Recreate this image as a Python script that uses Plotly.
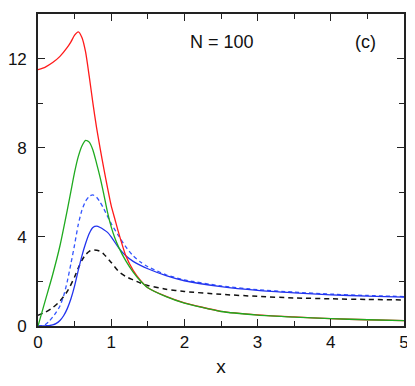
import plotly.graph_objects as go

# ---- data ----
x_red = [0, 0.1, 0.2, 0.3, 0.4, 0.45, 0.5, 0.55, 0.6, 0.65, 0.7, 0.75, 0.8, 0.85, 0.9, 0.95,
         1.0, 1.05, 1.1, 1.2, 1.3, 1.4, 1.5, 1.75, 2.0, 2.5, 3.0, 3.5, 4.0, 4.5, 5.0]
y_red = [11.5, 11.62, 11.82, 12.1, 12.5, 12.75, 13.05, 13.2, 12.95, 12.3, 11.2, 10.0, 8.9, 7.95, 7.05, 6.2,
         5.4, 4.8, 4.2, 3.15, 2.5, 2.05, 1.72, 1.33, 1.04, 0.66, 0.5, 0.41, 0.33, 0.28, 0.24]

x_green = [0, 0.1, 0.2, 0.3, 0.4, 0.45, 0.5, 0.55, 0.6, 0.65, 0.7, 0.75, 0.8, 0.85, 0.9, 0.95,
           1.0, 1.05, 1.1, 1.2, 1.3, 1.4, 1.5, 1.75, 2.0, 2.5, 3.0, 3.5, 4.0, 4.5, 5.0]
y_green = [0, 1.15, 2.3, 3.6, 5.2, 6.05, 6.9, 7.6, 8.08, 8.33, 8.25, 7.9, 7.3, 6.65, 5.9, 5.1,
           4.45, 3.95, 3.55, 2.92, 2.42, 2.02, 1.72, 1.32, 1.03, 0.65, 0.49, 0.4, 0.33, 0.28, 0.24]

x_blue = [0, 0.05, 0.1, 0.15, 0.2, 0.25, 0.3, 0.35, 0.4, 0.45, 0.5, 0.55, 0.6, 0.65, 0.7, 0.75,
          0.8, 0.85, 0.9, 0.95, 1.0, 1.1, 1.2, 1.3, 1.4, 1.5, 1.75, 2.0, 2.5, 3.0, 3.5, 4.0, 4.5, 5.0]
y_blue = [0, 0, 0.01, 0.02, 0.05, 0.12, 0.25, 0.46, 0.78, 1.22, 1.8, 2.5, 3.15, 3.7, 4.15, 4.42,
          4.48, 4.42, 4.32, 4.2, 4.0, 3.52, 3.15, 2.9, 2.72, 2.57, 2.26, 2.03, 1.77, 1.6, 1.49, 1.4, 1.34, 1.3]

x_blue_d = [0, 0.05, 0.1, 0.15, 0.2, 0.25, 0.3, 0.35, 0.4, 0.45, 0.5, 0.55, 0.6, 0.65, 0.7, 0.75,
            0.8, 0.85, 0.9, 1.0, 1.1, 1.2, 1.3, 1.4, 1.5, 1.75, 2.0, 2.5, 3.0, 3.5, 4.0, 4.5, 5.0]
y_blue_d = [0, 0.01, 0.06, 0.2, 0.4, 0.62, 0.9, 1.35, 2.0, 2.8, 3.65, 4.55, 5.2, 5.6, 5.82, 5.88,
            5.78, 5.55, 5.25, 4.6, 4.05, 3.55, 3.15, 2.87, 2.66, 2.3, 2.07, 1.8, 1.63, 1.52, 1.43, 1.37, 1.32]

x_black = [0, 0.1, 0.2, 0.3, 0.4, 0.5, 0.55, 0.6, 0.65, 0.7, 0.75, 0.8, 0.85, 0.9, 1.0, 1.1, 1.2,
           1.3, 1.4, 1.5, 1.75, 2.0, 2.5, 3.0, 3.5, 4.0, 4.5, 5.0]
y_black = [0.48, 0.62, 0.82, 1.12, 1.55, 2.2, 2.6, 2.95, 3.2, 3.35, 3.41, 3.4, 3.35, 3.22, 2.85, 2.45, 2.22,
           2.07, 1.93, 1.82, 1.65, 1.55, 1.42, 1.33, 1.26, 1.22, 1.19, 1.17]

x_ticks = [0, 1, 2, 3, 4, 5]
y_ticks = [0, 4, 8, 12]

FONT = "Liberation Sans, Arial, sans-serif"

fig = go.Figure()

def add(x, y, color, dash="solid", width=1.3):
    fig.add_trace(go.Scatter(x=x, y=y, mode="lines", cliponaxis=True,
                             line=dict(color=color, width=width, dash=dash, shape="spline", smoothing=0.6),
                             showlegend=False, hoverinfo="skip"))

add(x_black, y_black, "#111111", dash="5px,4px", width=1.5)
add(x_blue_d, y_blue_d, "#3355ff", dash="4px,3px", width=1.3)
add(x_blue, y_blue, "#2233ee", width=1.3)
add(x_red, y_red, "#ff1a1a", width=1.3)
add(x_green, y_green, "#1faa1f", width=1.3)

axis_common = dict(
    showgrid=False, zeroline=False, showline=True, linecolor="#222222", linewidth=1.6,
    mirror="allticks", ticks="inside", ticklen=7, tickwidth=1.2, tickcolor="#222222",
    tickfont=dict(family=FONT, size=17, color="#111111"), automargin=False,
)

fig.update_xaxes(range=[0, 5], tickvals=x_ticks, ticktext=[str(v) for v in x_ticks],
                 minor=dict(dtick=0.5, ticks="inside", ticklen=5, tickwidth=1.2, tickcolor="#222222"),
                 title=dict(text="x", font=dict(family=FONT, size=19, color="#111111"), standoff=8),
                 **axis_common)
fig.update_yaxes(range=[0, 14], tickvals=y_ticks, ticktext=[str(v) for v in y_ticks],
                 minor=dict(dtick=2, ticks="inside", ticklen=5, tickwidth=1.2, tickcolor="#222222"),
                 ticklabelstandoff=6,
                 **axis_common)

fig.add_annotation(x=2.51, y=12.76, text="N = 100", showarrow=False,
                   font=dict(family=FONT, size=18, color="#111111"))
fig.add_annotation(x=4.47, y=12.76, text="(c)", showarrow=False,
                   font=dict(family=FONT, size=18, color="#111111"))

# page body has an 8px margin: shift the layout so the plot area lands on the reference pixels
fig.update_layout(width=407, height=378, margin=dict(l=30, r=11, t=6, b=60, autoexpand=False),
                  plot_bgcolor="white", paper_bgcolor="white")

fig.write_html("out.html")
